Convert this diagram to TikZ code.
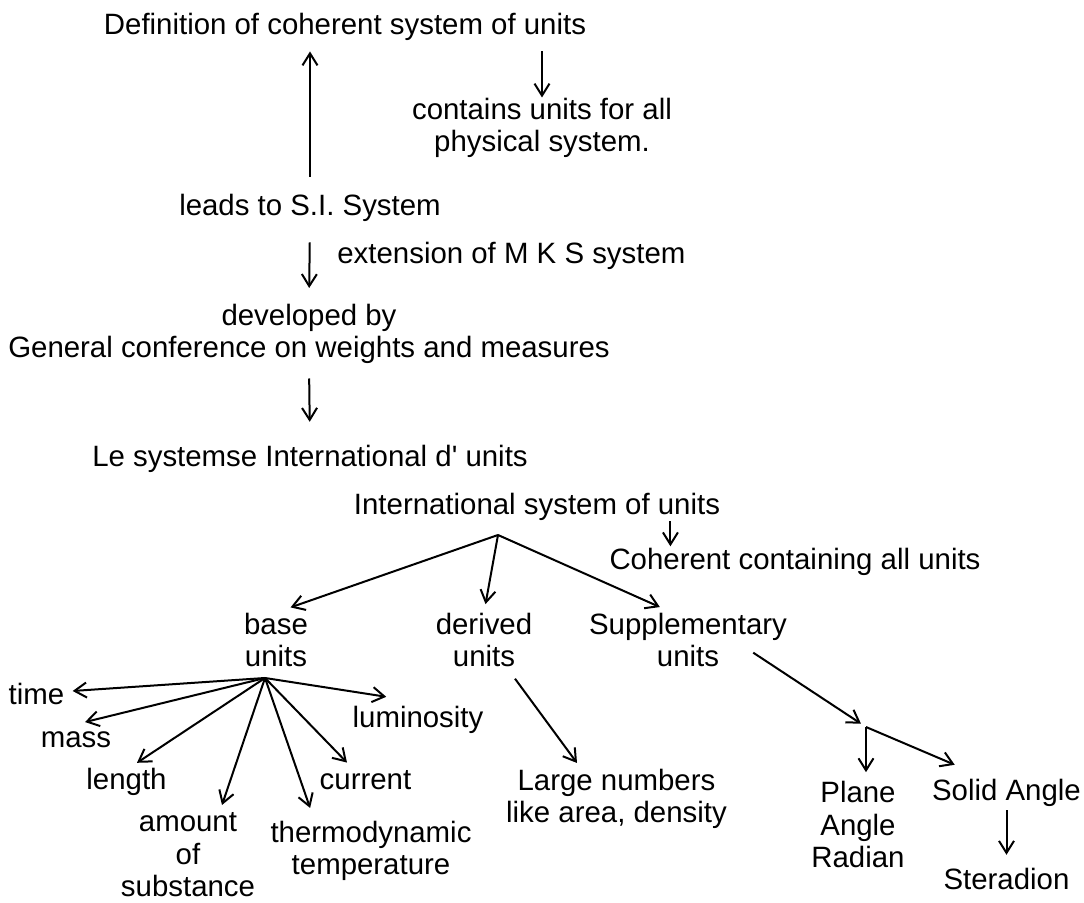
\documentclass[tikz,border=0pt]{standalone}
\usepackage{fontspec}
\setmainfont{Liberation Sans}[Ligatures=TeXOff]
\usetikzlibrary{arrows.meta}

\begin{document}
\begin{tikzpicture}[x=0.5pt,y=-0.5pt,
	lbl/.style={inner sep=0pt,anchor=base,align=center,font=\fontsize{14.7pt}{16.4pt}\selectfont},
	arr/.style={-{Straight Barb[length=6pt,width=7.5pt]},line width=1pt}]
\useasboundingbox (0,0) rectangle (1084,903);

	\node[lbl] (def) at (345,35) {Definition of coherent system of units};
		\node[lbl] (contains) at (542,152) {contains units for all\\physical system.};
			\path[arr] (def.south -| contains.north) edge[shorten <=5pt] (contains.north);

	\node[lbl] (lead) at (310,216) {leads to S.I. System};
		\path[arr] (lead.north) edge[shorten <=8.75pt,shorten >=5pt] (lead.north |- def.south);
		\node[lbl,anchor=base west] (ext) at (337,264) {extension of M K S system};

	\node[lbl] (devel) at (309,358) {developed by\\General conference on weights and measures};
		\path[arr] (lead.south) edge[shorten <=10pt,shorten >=7.75pt] (devel.north);

	\node[lbl] (lesys) at (310,467) {Le systemse International d' units};
		\path[arr] (devel.south) edge[shorten <=7pt,shorten >=11.75pt] (lesys.north);

	\node[lbl] (intl) at (537,515) {International system of units};
		\node[lbl] (coherent) at (795,570) {Coherent containing all units};
			\path[arr] ([xshift=-25pt]intl.south east) edge[shorten >=1pt] ([xshift=-25pt]intl.south east |- coherent.north);

	% second level
	\coordinate (fanTop) at (498,535);
		\node[lbl] (base) at (276,667) {base\\units};
			\path[arr] (fanTop) edge[shorten >=7.7pt] (base.north);
		\node[lbl] (derived) at (484,667) {derived\\units};
			\path[arr] (fanTop) edge[shorten >=4.25pt] (derived.north);
		\node[lbl] (suppl) at (688,667) {Supplementary\\units};
			\path[arr] (fanTop) edge[shorten >=6.7pt] (suppl.120);

	% base units
	\coordinate (fanBase) at (265,678);
		\node[lbl] (time) at (36.5,705) {time};
			\path[arr] (fanBase) edge ([xshift=4pt,yshift=1.75pt]time.east);
		\node[lbl] (mass) at (76,748) {mass};
			\path[arr] (fanBase) edge ([xshift=4.5pt,yshift=4.85pt]mass.north);
		\node[lbl] (length) at (126.5,790) {length};
			\path[arr] (fanBase) edge ([xshift=5.25pt,yshift=2.75pt]length.north);
		\node[lbl] (amount) at (188,897) {amount\\of\\substance};
			\path[arr] (fanBase) edge ([xshift=17pt,yshift=3.5pt]amount.north);
		\node[lbl] (thermo) at (371,875) {thermodynamic\\temperature};
			\path[arr] (fanBase) edge ([xshift=20pt,yshift=6.25pt]thermo.north west);
		\node[lbl] (current) at (365.5,790) {current};
			\path[arr] (fanBase) edge ([xshift=-9.25pt,yshift=4pt]current.north);
		\node[lbl] (lumin) at (418,728) {luminosity};
			\path[arr] (fanBase) edge ([xshift=17pt,yshift=4.75pt]lumin.north west);

	% derived units
	\node[lbl] (large) at (616.5,823) {Large numbers\\like area, density};
		\path[arr] ([xshift=15.5pt,yshift=-5.5pt]derived.south) edge ([xshift=-19.75pt,yshift=2.75pt]large.north);

	% supplementary units
	\coordinate (fanSup) at (866,727);
		\path[arr] ([xshift=-17pt,yshift=7.5pt]suppl.south east) edge[shorten >=3pt] (fanSup);
		\node[lbl] (plane) at (858,868) {Plane\\Angle\\Radian};
			\path[arr] (fanSup) edge[shorten >=4.25pt] (fanSup |- plane.north);
		\node[lbl] (solid) at (1006.5,801) {Solid Angle};
			\path[arr] (fanSup) edge ([xshift=11.5pt,yshift=7.25pt]solid.north west);
			\node[lbl] (sterad) at (1006.5,890) {Steradion};
				\path[arr] (solid.south) edge[shorten <=1.5pt,shorten >=6.75pt] (sterad.north);
\end{tikzpicture}
\end{document}
